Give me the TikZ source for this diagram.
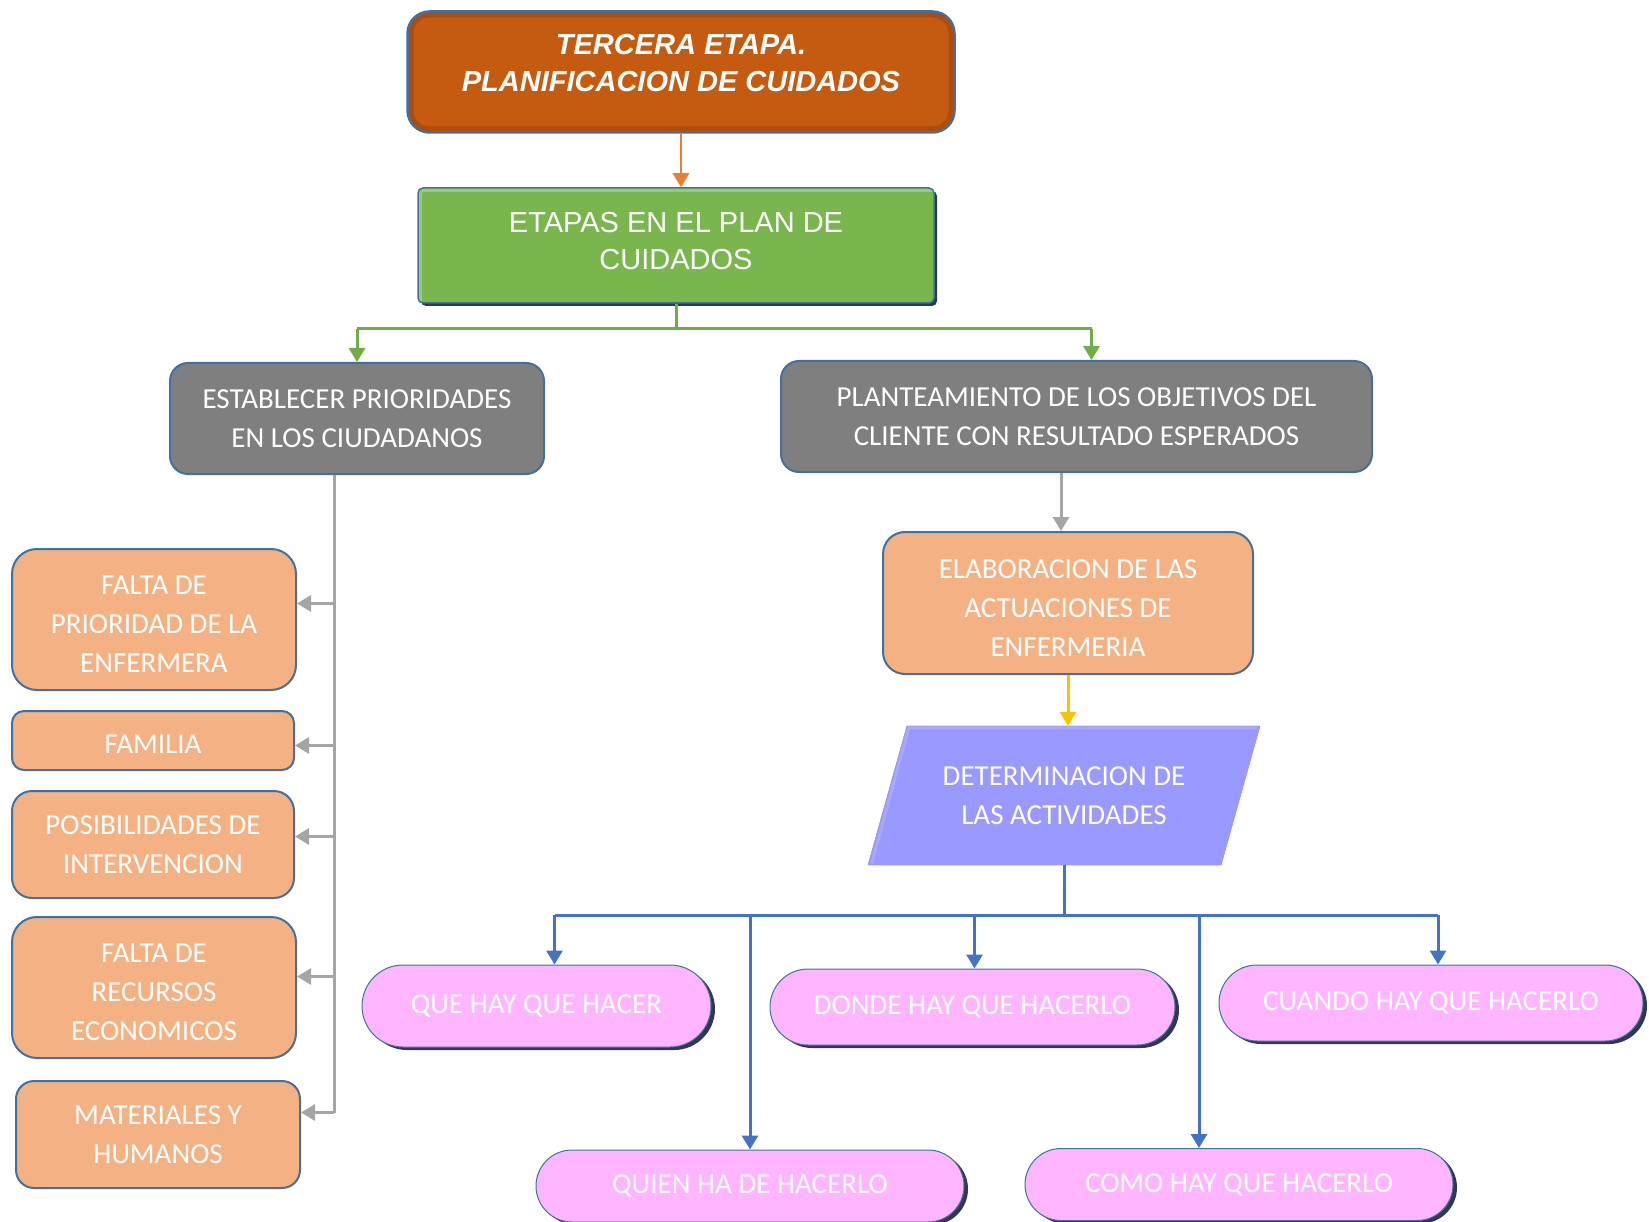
\documentclass[tikz,border=0pt]{standalone}
\usepackage{fontspec}
\setmainfont{Carlito}
\newfontfamily\arialf{Liberation Sans}
\usetikzlibrary{arrows.meta,shapes.misc,shadows,backgrounds}
\newcommand\stt{\rule{0pt}{28pt}}
\definecolor{bordc}{HTML}{41719C}
\definecolor{titlef}{HTML}{C55A11}
\definecolor{titled}{HTML}{8E3E0A}
\definecolor{greenf}{HTML}{7AB64E}
\definecolor{greenl}{HTML}{A6D67E}
\definecolor{grayf}{HTML}{7F7F7F}
\definecolor{orf}{HTML}{F4B183}
\definecolor{purf}{HTML}{9999FF}
\definecolor{pinkf}{HTML}{FFB5FF}
\definecolor{shadc}{HTML}{2B3A4F}
\definecolor{corange}{HTML}{ED7D31}
\definecolor{cgreen}{HTML}{70AD47}
\definecolor{cgray}{HTML}{A5A5A5}
\definecolor{cyellow}{HTML}{FFC000}
\definecolor{cblue}{HTML}{4472C4}
\begin{document}
\begin{tikzpicture}[x=1pt,y=-1pt,
  txt/.style={text=white,align=center,font=\fontsize{29}{39}\selectfont,inner sep=0pt},
  box/.style={txt,draw=bordc,line width=2pt},
  titlebox/.style={box,fill=titlef,rounded corners=22pt,line width=2.5pt,
    path picture={\draw[titled,opacity=0.45,line width=12pt,rounded corners=22pt]
      (path picture bounding box.south west) rectangle (path picture bounding box.north east);}},
  titletext/.style={txt,font=\arialf\bfseries\itshape\fontsize{29}{37}\selectfont},
  greenbox/.style={box,fill=greenf,draw=bordc,line width=1.5pt,rounded corners=5pt,
    font=\arialf\fontsize{29}{37}\selectfont,
    execute at end node={\rule[-9pt]{0pt}{9pt}},
    path picture={\draw[greenl,opacity=0.7,line width=8pt]
      (path picture bounding box.south west) -- (path picture bounding box.north west) -- (path picture bounding box.north east);},
    drop shadow={shadow xshift=3pt,shadow yshift=-3pt,fill=shadc,opacity=1}},
  graybox/.style={box,fill=grayf,rounded corners=18pt},
  orbox/.style={box,fill=orf},
  pill/.style={txt,rounded rectangle,draw=bordc,line width=1pt,fill=pinkf,
    drop shadow={shadow xshift=4pt,shadow yshift=-3pt,fill=shadc,opacity=1}},
  conn/.style={line width=3pt},
  tip/.style={-{Triangle[length=14pt,width=16pt]}}
]
\useasboundingbox (0,0) rectangle (1649,1222);

% top
\node[titlebox,minimum width=547pt,minimum height=121pt] (t) at (681,72) {};
\node[titletext] (tt) at (681,63) {TERCERA ETAPA.\\PLANIFICACION DE CUIDADOS};
\node[greenbox,minimum width=516pt,minimum height=115pt] (g) at (676,245.5) {ETAPAS EN EL PLAN DE\\CUIDADOS};

\node[graybox,minimum width=374pt,minimum height=111pt] (lp) at (357,418.5) {ESTABLECER PRIORIDADES\\EN LOS CIUDADANOS};
\node[graybox,minimum width=591pt,minimum height=111pt] (rp) at (1076.5,416.5) {PLANTEAMIENTO DE LOS OBJETIVOS DEL\\CLIENTE CON RESULTADO ESPERADOS};

% left column
\node[orbox,rounded corners=25pt,minimum width=284pt,minimum height=141pt] (f1) at (154,619.5) {\stt FALTA DE\\PRIORIDAD DE LA\\ENFERMERA};
\node[orbox,rounded corners=12pt,minimum width=282pt,minimum height=59pt] (f2) at (153,740.5) {\rule{0pt}{25pt}FAMILIA};
\node[orbox,rounded corners=20pt,minimum width=282pt,minimum height=107pt] (f3) at (153,844.5) {POSIBILIDADES DE\\INTERVENCION};
\node[orbox,rounded corners=25pt,minimum width=284pt,minimum height=141pt] (f4) at (154,987.5) {\stt FALTA DE\\RECURSOS\\ECONOMICOS};
\node[orbox,rounded corners=18pt,minimum width=284pt,minimum height=107pt] (f5) at (158,1134.5) {MATERIALES Y\\HUMANOS};

% right column
\node[orbox,rounded corners=22pt,minimum width=370pt,minimum height=142pt] (e) at (1068,603) {\stt ELABORACION DE LAS\\ACTUACIONES DE\\ENFERMERIA};
\node[txt,minimum width=392pt,minimum height=139pt] (p) at (1064,795.5) {DETERMINACION DE\\LAS ACTIVIDADES};
\begin{scope}[on background layer]
  \foreach \s/\o in {10/0.07,8/0.09,6/0.11,4/0.13,2/0.15}{
    \fill[black,opacity=\o,xshift=\s pt,yshift=\s pt]
      (p.south west) -- ([xshift=39pt]p.north west) -- (p.north east) -- ([xshift=-39pt]p.south east) -- cycle;
  }
  \fill[purf] (p.south west) -- ([xshift=39pt]p.north west) -- (p.north east) -- ([xshift=-39pt]p.south east) -- cycle;
  \draw[white,opacity=0.15,line width=3pt] ([xshift=4pt,yshift=2pt]p.south west) -- ([xshift=41pt,yshift=-2pt]p.north west) -- ([xshift=-3pt,yshift=-2pt]p.north east);
\end{scope}

% pills
\node[pill,minimum width=349pt,minimum height=82pt] (q1) at (536.5,1006) {QUE HAY QUE HACER};
\node[pill,minimum width=405pt,minimum height=76pt] (q2) at (972.5,1007) {DONDE HAY QUE HACERLO};
\node[pill,minimum width=424pt,minimum height=76pt] (q3) at (1431,1003) {CUANDO HAY QUE HACERLO};
\node[pill,minimum width=428pt,minimum height=72pt] (q4) at (750,1186) {QUIEN HA DE HACERLO};
\node[pill,minimum width=428pt,minimum height=72pt] (q5) at (1239,1184.5) {COMO HAY QUE HACERLO};

% connectors top
\draw[conn,corange,tip,line width=2.5pt] (t.south) -- (t.south |- g.north);
\coordinate (gj) at ([yshift=-25pt]g.south);
\coordinate (ga2) at ([xshift=15pt]rp.north);
\draw[conn,cgreen] (g.south) -- (gj);
\draw[conn,cgreen] (gj -| lp.north) -- (gj -| ga2);
\draw[conn,cgreen,tip] (gj -| lp.north) -- (lp.north);
\draw[conn,cgreen,tip] (gj -| ga2) -- (ga2);

% left gray
\coordinate (vtop) at ([xshift=-23pt]lp.south);
\coordinate (a1) at ([yshift=16pt]f1.east);
\coordinate (a2) at ([yshift=-5pt]f2.east);
\coordinate (a3) at ([yshift=8pt]f3.east);
\coordinate (a4) at ([yshift=11pt]f4.east);
\coordinate (a5) at ([yshift=22pt]f5.east);
\draw[conn,cgray] (vtop) -- (vtop |- a5);
\foreach \a in {a1,a2,a3,a4,a5}{
  \draw[conn,cgray,tip] (vtop |- \a) -- (\a);
}

% right chain
\coordinate (en) at ([xshift=-7pt]e.north);
\draw[conn,cgray,tip] (rp.south -| en) -- (en);
\draw[conn,cyellow,tip] (e.south) -- (e.south |- p.north);

% blue connectors
\coordinate (bj) at ([yshift=-50pt]p.south);
\coordinate (b1) at ([xshift=18pt]q1.north);
\coordinate (b2) at ([xshift=2pt]q2.north);
\coordinate (b3) at ([xshift=7pt]q3.north);
\coordinate (b4) at (q4.north);
\coordinate (b5) at ([xshift=-40pt]q5.north);
\draw[conn,cblue] (p.south) -- (bj);
\draw[conn,cblue] (bj -| b1) -- (bj -| b3);
\foreach \b in {b1,b2,b3,b4,b5}{
  \draw[conn,cblue,tip] (bj -| \b) -- (\b);
}
\end{tikzpicture}
\end{document}
